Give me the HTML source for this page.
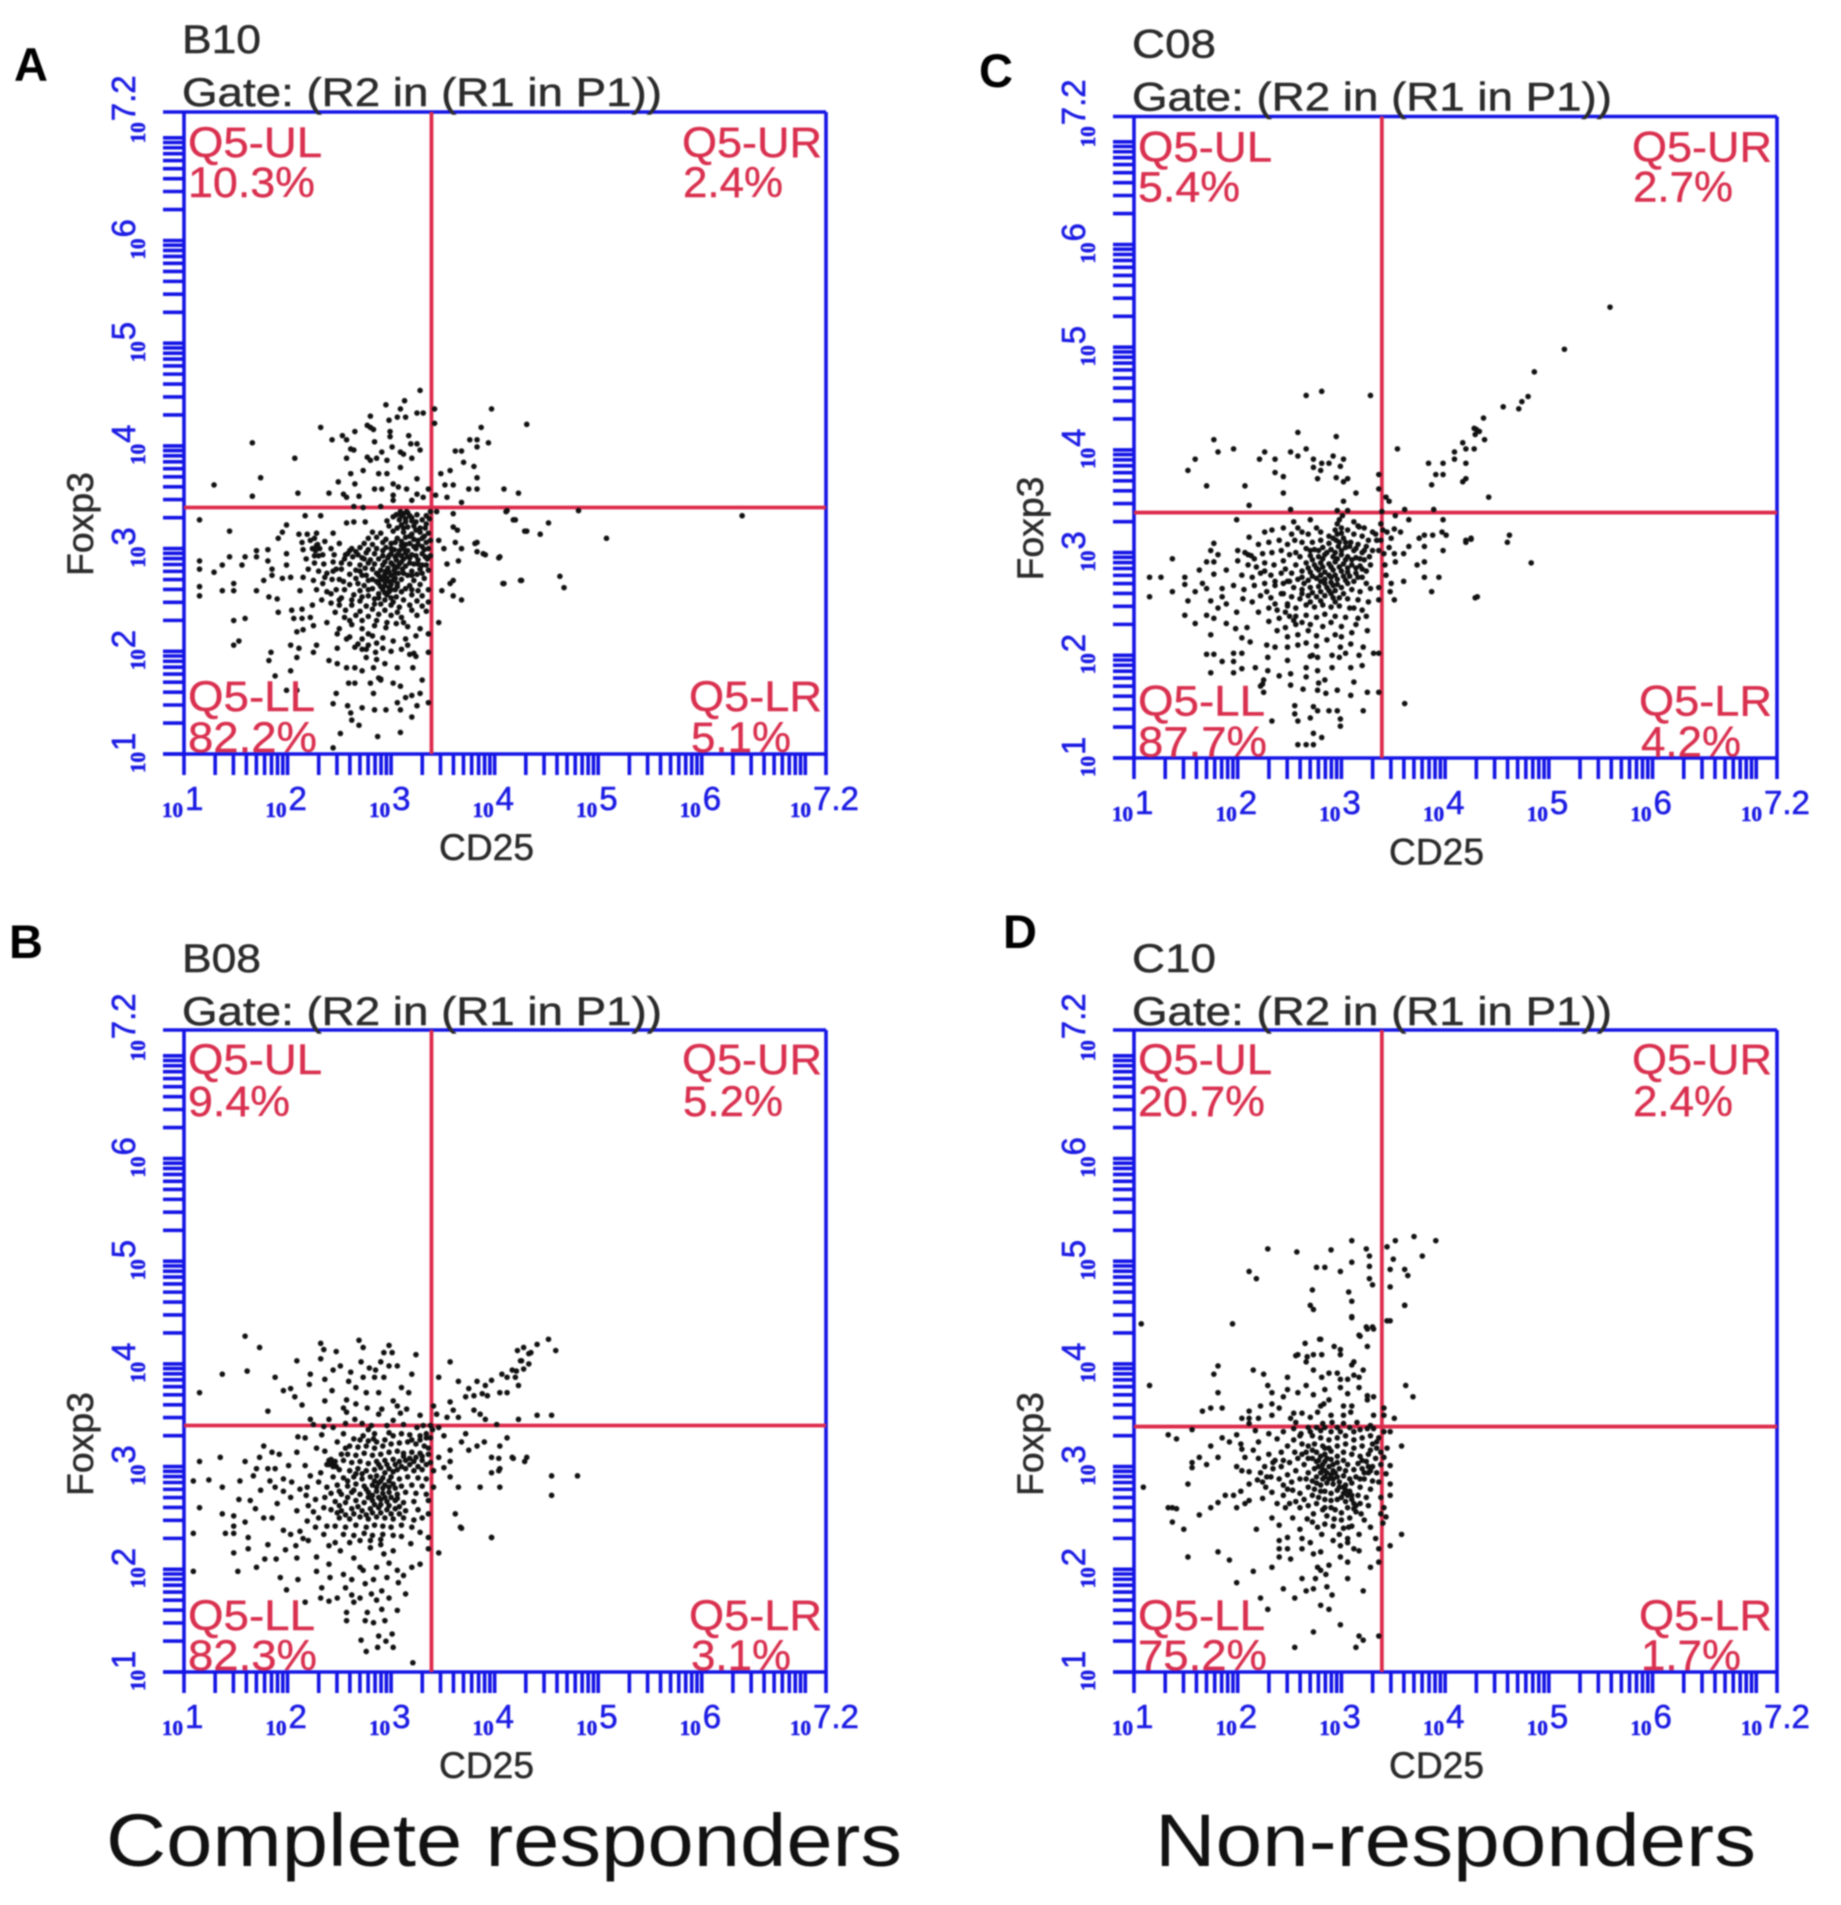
<!DOCTYPE html>
<html lang="en"><head><meta charset="utf-8"><title>Flow cytometry CD25 vs Foxp3</title>
<style>
html,body{margin:0;padding:0;background:#fff}
body{width:1841px;height:1905px;overflow:hidden}
svg{display:block;filter:blur(.8px)}
text{font-family:"Liberation Sans",sans-serif}
.title{font-size:40px;fill:#2b2b2b;stroke:#2b2b2b;stroke-width:.5px}
.q{font-size:43px;fill:#d9304f;stroke:#d9304f;stroke-width:.4px}
.ax{font-size:37px;fill:#2b2b2b;stroke:#2b2b2b;stroke-width:.5px}
.letter{font-size:47px;font-weight:bold;fill:#000}
.cap{font-size:74px;fill:#111}
</style></head><body>
<svg id="fig" width="1841" height="1905" viewBox="0 0 1841 1905">
<rect width="1841" height="1905" fill="#fff"/>
<g id="marks"></g>
<text class="letter" x="14" y="81">A</text>
<text class="letter" x="979" y="87">C</text>
<text class="letter" x="9" y="958">B</text>
<text class="letter" x="1003" y="948">D</text>

<g transform="translate(184,112)">
<text class="title" x="-2" y="-59" textLength="79" lengthAdjust="spacingAndGlyphs">B10</text>
<text class="title" x="-2" y="-6" textLength="480" lengthAdjust="spacingAndGlyphs">Gate: (R2 in (R1 in P1))</text>
<text class="q" x="4" y="45" textLength="134" lengthAdjust="spacingAndGlyphs">Q5-UL</text>
<text class="q" x="4" y="85" textLength="127" lengthAdjust="spacingAndGlyphs">10.3%</text>
<text class="q" x="498" y="45" textLength="140" lengthAdjust="spacingAndGlyphs">Q5-UR</text>
<text class="q" x="499" y="85" textLength="100" lengthAdjust="spacingAndGlyphs">2.4%</text>
<text class="q" x="4" y="599" textLength="127" lengthAdjust="spacingAndGlyphs">Q5-LL</text>
<text class="q" x="4" y="640" textLength="129" lengthAdjust="spacingAndGlyphs">82.2%</text>
<text class="q" x="505" y="599" textLength="133" lengthAdjust="spacingAndGlyphs">Q5-LR</text>
<text class="q" x="507" y="640" textLength="100" lengthAdjust="spacingAndGlyphs">5.1%</text>
<text class="ax" transform="translate(-91,464) rotate(-90)" textLength="104" lengthAdjust="spacingAndGlyphs">Foxp3</text>
<text class="ax" x="255" y="748" textLength="95" lengthAdjust="spacingAndGlyphs">CD25</text>
</g>
<g transform="translate(184,1030)">
<text class="title" x="-2" y="-58" textLength="79" lengthAdjust="spacingAndGlyphs">B08</text>
<text class="title" x="-2" y="-5" textLength="480" lengthAdjust="spacingAndGlyphs">Gate: (R2 in (R1 in P1))</text>
<text class="q" x="4" y="44" textLength="134" lengthAdjust="spacingAndGlyphs">Q5-UL</text>
<text class="q" x="4" y="86" textLength="102" lengthAdjust="spacingAndGlyphs">9.4%</text>
<text class="q" x="498" y="44" textLength="140" lengthAdjust="spacingAndGlyphs">Q5-UR</text>
<text class="q" x="499" y="86" textLength="100" lengthAdjust="spacingAndGlyphs">5.2%</text>
<text class="q" x="4" y="600" textLength="127" lengthAdjust="spacingAndGlyphs">Q5-LL</text>
<text class="q" x="4" y="640" textLength="129" lengthAdjust="spacingAndGlyphs">82.3%</text>
<text class="q" x="505" y="600" textLength="133" lengthAdjust="spacingAndGlyphs">Q5-LR</text>
<text class="q" x="507" y="640" textLength="100" lengthAdjust="spacingAndGlyphs">3.1%</text>
<text class="ax" transform="translate(-91,466) rotate(-90)" textLength="104" lengthAdjust="spacingAndGlyphs">Foxp3</text>
<text class="ax" x="255" y="748" textLength="95" lengthAdjust="spacingAndGlyphs">CD25</text>
</g>
<g transform="translate(1134,116.5)">
<text class="title" x="-2" y="-59" textLength="84" lengthAdjust="spacingAndGlyphs">C08</text>
<text class="title" x="-2" y="-6" textLength="480" lengthAdjust="spacingAndGlyphs">Gate: (R2 in (R1 in P1))</text>
<text class="q" x="4" y="45" textLength="134" lengthAdjust="spacingAndGlyphs">Q5-UL</text>
<text class="q" x="4" y="85" textLength="102" lengthAdjust="spacingAndGlyphs">5.4%</text>
<text class="q" x="498" y="45" textLength="140" lengthAdjust="spacingAndGlyphs">Q5-UR</text>
<text class="q" x="499" y="85" textLength="100" lengthAdjust="spacingAndGlyphs">2.7%</text>
<text class="q" x="4" y="599" textLength="127" lengthAdjust="spacingAndGlyphs">Q5-LL</text>
<text class="q" x="4" y="640" textLength="129" lengthAdjust="spacingAndGlyphs">87.7%</text>
<text class="q" x="505" y="599" textLength="133" lengthAdjust="spacingAndGlyphs">Q5-LR</text>
<text class="q" x="507" y="640" textLength="100" lengthAdjust="spacingAndGlyphs">4.2%</text>
<text class="ax" transform="translate(-91,464) rotate(-90)" textLength="104" lengthAdjust="spacingAndGlyphs">Foxp3</text>
<text class="ax" x="255" y="748" textLength="95" lengthAdjust="spacingAndGlyphs">CD25</text>
</g>
<g transform="translate(1134,1030)">
<text class="title" x="-2" y="-58" textLength="84" lengthAdjust="spacingAndGlyphs">C10</text>
<text class="title" x="-2" y="-5" textLength="480" lengthAdjust="spacingAndGlyphs">Gate: (R2 in (R1 in P1))</text>
<text class="q" x="4" y="44" textLength="134" lengthAdjust="spacingAndGlyphs">Q5-UL</text>
<text class="q" x="4" y="86" textLength="127" lengthAdjust="spacingAndGlyphs">20.7%</text>
<text class="q" x="498" y="44" textLength="140" lengthAdjust="spacingAndGlyphs">Q5-UR</text>
<text class="q" x="499" y="86" textLength="100" lengthAdjust="spacingAndGlyphs">2.4%</text>
<text class="q" x="4" y="600" textLength="127" lengthAdjust="spacingAndGlyphs">Q5-LL</text>
<text class="q" x="4" y="640" textLength="129" lengthAdjust="spacingAndGlyphs">75.2%</text>
<text class="q" x="505" y="600" textLength="133" lengthAdjust="spacingAndGlyphs">Q5-LR</text>
<text class="q" x="507" y="640" textLength="100" lengthAdjust="spacingAndGlyphs">1.7%</text>
<text class="ax" transform="translate(-91,466) rotate(-90)" textLength="104" lengthAdjust="spacingAndGlyphs">Foxp3</text>
<text class="ax" x="255" y="748" textLength="95" lengthAdjust="spacingAndGlyphs">CD25</text>
</g>
<text class="cap" x="106" y="1866" textLength="796" lengthAdjust="spacingAndGlyphs">Complete responders</text>
<text class="cap" x="1155" y="1866" textLength="601" lengthAdjust="spacingAndGlyphs">Non-responders</text>
</svg>
<script>
// Axis values (log10 units)
const tickDecades = [1,2,3,4,5,6];
const tickMultipliers = [1,2,3,4,5,6,7,8,9];
const axisEnd = 7.2;
const tickLabels = ['1','2','3','4','5','6','7.2'];
const tickLabelValues = [1,2,3,4,5,6,7.2];
// Quadrant gate positions [CD25, Foxp3] in log10 units
const gateA = [3.39,3.40];
const gateB = [3.39,3.40];
const gateC = [3.39,3.39];
const gateD = [3.39,3.39];
// Events: [log10 CD25, log10 Foxp3]
const pointsA = [
[3.28,4.54],[2.95,4.4],[3.13,4.44],[3.09,4.36],[3.42,4.36],[3.25,4.32],[3.31,4.32],[3.42,4.22],[3.97,4.36],[4.31,4.21],[2.8,4.29],[2.98,4.25],[3.06,4.28],[3.14,4.28],[2.32,4.18],[2.8,4.18],[2.77,4.2],[2.83,4.16],[2.65,4.14],[2.99,4.14],[2.99,4.09],[3.17,4.1],[3.87,4.18],[2.53,4.1],[2.43,4.06],[2.57,4.06],[2.84,4.04],[3.76,4.06],[3.83,4.06],[3.83,3.99],[3.94,4.03],[1.66,4.03],[3.01,3.99],[3.19,4.02],[3.25,4.02],[3.28,3.96],[2.61,3.97],[2.57,3.88],[2.64,3.96],[2.77,3.89],[2.91,3.94],[2.96,3.86],[3.09,3.94],[3.12,3.92],[3.2,3.88],[3.62,3.95],[3.68,3.95],[2.07,3.88],[3.7,3.84],[3.8,3.8],[2.8,3.86],[2.86,3.88],[3.09,3.79],[2.73,3.76],[2.88,3.73],[2.96,3.73],[3.57,3.76],[3.48,3.73],[2.61,3.73],[1.74,3.69],[3.25,3.68],[3.83,3.69],[2.49,3.65],[2.65,3.63],[3.52,3.62],[3.6,3.62],[3.02,3.63],[1.29,3.62],[3.07,3.6],[2.84,3.58],[2.91,3.58],[3.15,3.58],[3.75,3.58],[3.83,3.58],[4.09,3.58],[4.23,3.54],[2.1,3.54],[2.4,3.54],[1.66,3.51],[2.54,3.53],[2.69,3.51],[3.02,3.52],[3.25,3.53],[3.36,3.58],[3.43,3.52],[3.54,3.5],[2.57,3.5],[3.02,3.47],[3.2,3.47],[3.31,3.5],[3.68,3.45],[2.64,3.41],[2.73,3.4],[2.9,3.41],[3.09,3.36],[3.15,3.36],[3.38,3.36],[3.44,3.36],[3.6,3.34],[4.12,3.37],[2.17,3.32],[2.32,3.32],[1.15,3.28],[4.2,3.28],[2.57,3.25],[2.64,3.26],[1.99,3.23],[2.75,3.26],[2.96,3.27],[3.02,3.31],[3.64,3.18],[3.6,3.21],[4.31,3.17],[1.44,3.17],[1.95,3.16],[1.91,3.1],[2.11,3.14],[2.19,3.14],[2.28,3.15],[2.44,3.15],[3.83,3.06],[3.62,3.06],[3.83,2.97],[3.89,2.95],[4.05,2.92],[3.68,3.0],[3.65,2.88],[3.54,2.85],[3.51,3.0],[3.46,3.08],[4.09,2.66],[4.26,2.69],[3.6,2.69],[3.57,2.66],[3.49,2.59],[3.6,2.54],[3.68,2.5],[3.46,2.28],
[1.15,2.88],[1.15,2.8],[1.29,2.77],[1.37,2.84],[1.44,2.92],[1.56,2.84],[1.59,2.92],[1.7,2.98],[1.7,2.92],[1.81,2.99],[1.81,2.88],[1.85,2.8],[1.99,2.95],[1.99,2.84],[1.77,2.69],[1.85,2.74],[1.95,2.71],[2.03,2.72],[1.15,2.63],[1.15,2.54],[1.37,2.59],[1.48,2.66],[1.48,2.59],[1.7,2.59],[1.82,2.53],[1.9,2.51],[2.12,2.59],[1.91,2.38],[2.04,2.4],[2.14,2.41],[2.06,2.32],[2.14,2.32],[2.22,2.33],[2.25,2.25],[1.48,2.3],[1.59,2.32],[2.09,2.19],[2.15,2.21],[1.48,2.06],[1.53,2.1],[2.03,2.06],[2.11,2.03],[2.28,2.06],[2.25,1.99],[1.84,1.99],[1.82,1.91],[2.09,1.94],[2.4,1.91],[2.48,2.03],[2.48,1.88],[2.57,2.12],[2.57,1.84],[2.65,1.84],[2.72,1.81],[2.83,1.84],[2.94,1.88],[3.06,1.84],[3.21,1.84],[2.59,1.69],[2.65,1.69],[2.8,1.69],[2.9,1.73],[3.02,1.69],[3.09,1.66],[3.3,1.72],[1.88,1.76],[2.03,1.81],[2.83,1.59],[2.47,1.59],[1.99,1.62],[2.09,1.62],[3.06,1.5],[3.14,1.55],[3.2,1.57],[3.28,1.59],[3.36,1.5],[2.44,1.49],[2.58,1.47],[2.72,1.45],[2.84,1.43],[2.95,1.43],[3.09,1.43],[3.25,1.47],[2.61,1.4],[3.2,1.36],[2.62,1.33],[2.69,1.28],[3.09,1.21],[2.51,1.2],[2.87,1.17],[2.44,1.06],[3.36,1.99],[3.36,2.17],[3.36,2.48],
[6.39,3.32],[5.08,3.1],[4.81,3.37],[4.52,3.25],[4.44,3.14],[4.29,3.17],[4.18,3.28],[4.11,3.36],[4.63,2.73],[4.67,2.62],[4.25,2.69],[4.08,2.66],[4.04,2.91],[3.91,2.94],[3.81,3.05],
[2.14,3.06],[2.22,3.08],[2.29,3.04],[2.36,3.07],[2.15,2.99],[2.27,2.98],[2.3,2.93],[2.42,3.0],[2.45,2.94],[2.18,2.9],[2.26,2.86],[2.35,2.85],[2.44,2.87],[2.5,3.05],[2.2,2.8],[2.3,2.78],[2.38,2.76],[2.47,2.8],[2.15,2.72],[2.25,2.69],[2.34,2.66],[2.43,2.7],[2.28,2.6],[2.38,2.58],[2.47,2.6],[2.33,2.5],[2.42,2.47],[2.52,2.52],[2.24,2.45],[2.46,2.38],[2.55,2.33],[2.38,2.28],[2.5,2.22],[2.62,2.26],[2.72,2.22],[2.84,2.25],[2.95,2.23],[3.05,2.27],[3.16,2.24],[3.28,2.22],[2.48,2.17],[2.6,2.14],[2.72,2.12],[2.82,2.15],[2.92,2.13],[3.02,2.1],[3.14,2.12],[3.24,2.15],[2.65,2.04],[2.72,2.02],[2.78,2.06],[2.85,1.99],[2.92,2.03],[3.0,2.0],[3.1,2.02],[3.18,1.97],[3.24,1.95],[2.76,1.94],[2.86,1.92],
[3.05,3.33],[3.12,3.34],[3.18,3.32],[3.25,3.33],[3.08,3.28],[3.14,3.29],[3.2,3.27],[3.3,3.28],[3.37,3.29],[2.98,3.22],[3.1,3.23],[3.16,3.21],[3.22,3.22],[3.33,3.2],[2.82,3.16],[2.9,3.15],[3.02,3.17],[3.12,3.16],[3.2,3.14],[3.28,3.16],[3.36,3.15],[2.78,3.1],[2.86,3.11],[2.95,3.09],[3.06,3.1],[3.14,3.11],[3.22,3.09],[3.3,3.1],[3.38,3.08],[2.74,3.05],[2.82,3.04],[2.92,3.06],[3.0,3.05],[3.1,3.03],[3.18,3.05],[3.26,3.04],[3.34,3.06],[2.62,3.0],[2.7,3.01],[2.78,2.99],[2.86,3.0],[2.95,3.01],[3.03,2.99],[3.12,3.0],[3.16,2.98],[3.24,3.0],[3.32,2.99],[2.58,2.95],[2.68,2.94],[2.76,2.96],[2.84,2.95],[2.92,2.93],[3.0,2.95],[3.06,2.94],[3.14,2.96],[3.2,2.94],[3.3,2.95],[3.38,2.93],[2.55,2.9],[2.72,2.91],[2.8,2.89],[2.88,2.9],[2.97,2.91],[3.05,2.89],[3.12,2.9],[3.18,2.91],[3.26,2.89],[3.35,2.9],[2.6,2.85],[2.7,2.84],[2.78,2.86],[2.84,2.85],[2.92,2.84],[3.0,2.86],[3.08,2.85],[3.14,2.83],[3.22,2.85],[3.3,2.84],[2.52,2.8],[2.66,2.79],[2.75,2.81],[2.82,2.8],[2.9,2.79],[2.97,2.81],[3.03,2.79],[3.11,2.8],[3.2,2.78],[3.28,2.8],[3.36,2.79],[2.6,2.75],[2.72,2.74],[2.86,2.76],[2.94,2.75],[3.0,2.74],[3.07,2.76],[3.16,2.74],[3.25,2.75],[2.5,2.7],[2.66,2.71],[2.78,2.69],[2.9,2.7],[2.96,2.71],[3.02,2.69],[3.1,2.7],[3.22,2.69],[3.32,2.71],[2.6,2.65],[2.74,2.64],[2.88,2.66],[2.94,2.64],[3.0,2.65],[3.06,2.66],[3.18,2.64],[3.28,2.65],[2.55,2.6],[2.7,2.59],[2.82,2.61],[2.92,2.6],[2.98,2.58],[3.04,2.6],[3.14,2.61],[3.26,2.59],[3.36,2.6],[2.64,2.55],[2.78,2.54],[2.88,2.56],[2.96,2.55],[3.05,2.53],[3.2,2.55],[3.3,2.54],[2.5,2.5],[2.7,2.49],[2.84,2.51],[2.94,2.5],[3.02,2.48],[3.12,2.5],[3.25,2.49],[2.62,2.45],[2.76,2.44],[2.9,2.46],[3.0,2.45],[3.08,2.43],[3.18,2.45],[3.3,2.44],[2.56,2.4],[2.7,2.39],[2.82,2.41],[2.94,2.4],[3.06,2.38],[3.2,2.4],[3.34,2.39],[2.66,2.35],[2.78,2.34],[2.88,2.36],[3.0,2.35],[3.1,2.33],[3.25,2.35]];
const denseA = [
[3.1,3.32],[3.16,3.35],[3.2,3.3],[3.14,3.26],[3.24,3.26],[3.34,3.32],[3.34,3.24],[3.28,3.2],[3.06,3.2],[3.12,3.2],[3.24,3.18],[3.32,3.12],[3.26,3.08],[3.18,3.12],[3.1,3.07],[3.04,3.06],[3.14,3.04],[3.22,3.02],[3.3,3.02],[3.36,3.0],[3.08,2.98],[3.0,3.0],[2.92,2.98],[2.98,2.93],[3.04,2.92],[3.1,2.93],[3.16,2.92],[3.24,2.93],[3.33,2.92],[2.94,2.87],[3.02,2.84],[3.06,2.82],[3.1,2.87],[3.18,2.86],[3.26,2.85],[3.34,2.84],[2.95,2.78],[2.88,2.74],[2.92,2.72],[2.98,2.77],[3.04,2.76],[3.12,2.76],[3.2,2.74],[3.3,2.76],[2.86,2.68],[2.94,2.68],[2.98,2.68],[3.04,2.71],[3.06,2.63],[2.9,2.63],[2.98,2.62],[3.0,2.6],[2.94,2.57],[3.1,2.58],[3.2,2.6],[2.88,2.52],[3.0,2.52],[2.26,3.1],[2.28,3.03],[2.24,3.0],[2.31,3.0],[2.26,2.93],[2.6,2.98],[2.63,2.92],[2.56,2.94],[2.66,2.97],[2.74,2.9],[2.7,2.78],[2.76,2.74],[2.82,2.7],[2.68,2.66],[2.78,2.6],[2.72,2.53],[2.84,2.46],[2.62,2.5],[2.5,2.45],[2.42,2.56],[2.36,2.72],[2.54,2.68],[2.44,2.78],[2.52,2.86],[2.34,2.94],[2.72,2.3],[2.6,2.3],[2.86,2.3],[2.96,2.28],[3.12,2.28],[2.78,2.17],[2.86,2.08],[2.76,2.02],[2.68,2.07],[3.16,2.06],[3.22,1.98],[2.9,1.72],[2.88,1.74]];
const pointsB = [
[1.59,4.27],[1.73,4.16],[2.32,4.2],[2.35,4.14],[2.47,4.12],[2.69,4.23],[2.73,4.16],[2.98,4.18],[2.93,4.11],[3.01,4.11],[3.24,4.09],[2.09,4.03],[2.32,4.05],[2.71,4.02],[2.9,4.02],[1.37,3.9],[1.61,3.93],[3.57,4.02],[2.98,3.98],[3.06,3.98],[2.51,3.98],[2.44,3.94],[2.22,3.9],[2.61,3.92],[2.85,3.94],[2.79,3.96],[3.2,3.9],[1.88,3.87],[2.36,3.85],[2.73,3.87],[2.84,3.87],[2.93,3.87],[3.46,3.87],[3.65,3.83],[2.59,3.83],[2.21,3.8],[2.66,3.77],[3.1,3.77],[3.17,3.72],[2.43,3.74],[2.76,3.72],[2.88,3.72],[1.96,3.74],[2.03,3.76],[1.15,3.72],[2.07,3.68],[2.36,3.64],[2.57,3.65],[2.66,3.61],[2.14,3.6],[3.02,3.64],[3.06,3.59],[3.15,3.56],[2.54,3.57],[2.77,3.57],[2.91,3.56],[1.81,3.54],[2.57,3.53],[2.88,3.51],[3.09,3.52],[3.28,3.5],[2.22,3.46],[2.4,3.46],[2.65,3.46],[3.02,3.45],[3.12,3.41],[2.25,3.41],[2.35,3.39],[2.44,3.38],[2.56,3.42],[2.72,3.42],[2.81,3.4],[2.96,3.4],[3.25,3.38],[3.31,3.4],[3.38,3.4],
[2.1,3.29],[2.17,3.28],[2.33,3.31],[2.54,3.32],[2.64,3.27],[2.73,3.3],[2.83,3.27],[1.77,3.2],[1.85,3.14],[1.92,3.12],[2.09,3.14],[2.28,3.18],[2.36,3.15],[2.48,3.24],[2.56,3.18],[1.73,3.09],[1.35,3.09],[1.15,3.05],[1.59,3.05],[2.01,3.01],[2.17,3.01],[2.44,3.04],[2.4,3.02],[2.47,3.0],[2.42,3.07],[1.7,2.98],[1.81,2.98],[1.88,2.98],[1.67,2.91],[1.24,2.87],[1.09,2.86],[1.54,2.86],[1.83,2.86],[2.04,2.85],[1.96,2.88],[1.37,2.8],[1.74,2.77],[1.88,2.8],[2.22,2.91],[2.32,2.94],[2.19,2.8],[2.27,2.68],[2.38,2.8],[2.35,2.6],[2.03,2.7],[2.09,2.57],[1.96,2.76],[1.53,2.68],[1.64,2.67],[1.69,2.59],[1.15,2.6],[1.9,2.64],[1.37,2.54],[1.48,2.52],[1.48,2.42],[1.59,2.46],[1.77,2.5],[1.85,2.5],[1.09,2.35],[1.4,2.35],[1.48,2.35],[1.62,2.31],[1.96,2.38],[2.03,2.34],[2.12,2.37],[2.19,2.47],[2.27,2.41],[2.2,2.28],[2.35,2.34],[1.81,2.24],[2.08,2.23],[1.98,2.19],[1.48,2.16],[1.62,2.2],[1.78,2.1],[1.89,2.1],[2.09,2.11],[2.28,2.12],[2.4,2.23],[1.7,2.02],[1.09,1.98],[1.52,1.98],[2.4,2.05],[2.28,1.98],[1.93,1.92],[2.1,1.9],[2.41,1.92],[2.33,1.82],[2.48,1.72],[2.32,1.72],[2.4,1.69],[2.17,1.68],[1.99,1.8],[2.54,1.95],[2.56,1.82],[2.64,1.68],[2.57,1.58],[2.57,1.5],[2.77,1.58],[2.83,1.48],[2.91,1.61],[3.06,1.6],[2.94,1.5],[2.75,1.5],[2.71,1.31],[2.88,1.35],[3.01,1.37],[2.95,1.3],[2.76,1.2],[2.87,1.24],[3.02,1.24],[3.21,1.09],
[2.73,1.99],[2.86,2.02],[2.96,1.92],[2.75,1.86],[2.81,1.76],[2.91,1.79],[3.07,1.87],[3.14,1.76],[3.28,2.05],[3.2,2.02],[3.12,1.94],[3.46,2.16],[3.36,2.2],[3.19,2.25],[3.28,2.36],[3.02,2.18],[2.93,2.15],[2.8,2.21],[2.64,2.11],[2.51,2.18],[2.7,2.02],[2.62,1.9],[2.83,1.9],[2.98,2.06],[3.06,1.99],
[3.46,3.38],[3.51,3.3],[3.57,3.16],[3.57,3.05],[3.46,3.09],[3.51,2.99],[3.57,2.9],[3.65,2.8],[3.86,2.8],[4.05,2.8],[3.97,2.94],[4.05,2.98],[3.97,3.09],[4.17,3.09],[4.31,3.09],[4.12,3.28],[4.05,3.2],[3.9,3.24],[3.83,3.2],[3.75,3.16],[3.68,3.24],[3.72,3.32],[3.62,2.54],[3.68,2.4],[3.97,2.31],[3.41,2.8],[3.36,2.54],[3.36,2.31],[3.41,2.96],
[3.41,3.59],[3.44,3.51],[3.54,3.48],[3.57,3.63],[3.6,3.55],[3.65,3.48],[3.8,3.55],[3.86,3.51],[3.91,3.46],[4.02,3.41],[4.23,3.46],[3.72,3.68],[3.75,3.76],[3.83,3.83],[3.8,3.69],[3.88,3.71],[3.93,3.69],[3.91,3.79],[3.97,3.84],[4.05,3.72],[4.12,3.72],[4.07,3.9],[4.12,3.87],[4.17,3.94],[4.23,3.79],[4.2,3.87],[4.22,4.13],[4.28,4.16],[4.33,4.1],[4.25,4.03],[4.28,3.95],[4.33,4.0],[4.26,4.03],[4.35,4.11],[4.21,3.93],[4.41,4.19],[4.52,4.24],[4.59,4.13],[4.41,3.5],[4.55,3.5],[4.8,2.91],[4.55,2.91],[4.55,2.72],[3.97,2.31],[3.67,2.41],[4.04,2.96],[4.04,3.08],[4.18,3.08],[4.29,3.05],
[2.7,3.26],[2.78,3.25],[2.86,3.24],[2.94,3.26],[3.02,3.3],[3.1,3.32],[3.18,3.31],[3.28,3.3],[3.34,3.28],[2.6,3.2],[2.68,3.19],[2.76,3.2],[2.84,3.18],[2.92,3.2],[3.0,3.22],[3.08,3.23],[3.16,3.24],[3.24,3.22],[3.32,3.2],[2.58,3.12],[2.66,3.11],[2.74,3.13],[2.82,3.11],[2.9,3.12],[2.98,3.14],[3.06,3.15],[3.12,3.13],[3.2,3.14],[3.28,3.13],[3.36,3.12],[2.54,3.06],[2.62,3.04],[2.7,3.05],[2.78,3.03],[2.86,3.05],[2.94,3.06],[3.02,3.07],[3.08,3.05],[3.14,3.06],[3.22,3.05],[3.3,3.06],[3.38,3.04],[2.5,2.97],[2.6,2.96],[2.68,2.98],[2.76,2.96],[2.84,2.97],[2.9,2.99],[2.98,2.98],[3.06,2.97],[3.14,2.98],[3.22,2.96],[3.3,2.97],[2.44,2.9],[2.54,2.89],[2.64,2.9],[2.72,2.88],[2.8,2.9],[2.86,2.91],[2.92,2.89],[3.0,2.9],[3.08,2.88],[3.16,2.9],[3.26,2.89],[3.34,2.88],[2.48,2.82],[2.58,2.81],[2.66,2.83],[2.74,2.81],[2.82,2.82],[2.88,2.84],[2.94,2.82],[3.02,2.83],[3.1,2.81],[3.2,2.82],[3.3,2.81],[2.42,2.74],[2.52,2.73],[2.62,2.75],[2.7,2.73],[2.78,2.75],[2.86,2.76],[2.92,2.74],[2.98,2.75],[3.06,2.73],[3.14,2.75],[3.24,2.74],[3.34,2.73],[2.46,2.66],[2.56,2.65],[2.66,2.67],[2.74,2.65],[2.82,2.67],[2.9,2.68],[2.96,2.66],[3.04,2.67],[3.12,2.65],[3.22,2.66],[3.36,2.67],[2.42,2.58],[2.52,2.57],[2.62,2.59],[2.72,2.57],[2.8,2.59],[2.88,2.6],[2.96,2.58],[3.04,2.59],[3.14,2.57],[3.26,2.58],[2.5,2.5],[2.6,2.49],[2.7,2.51],[2.78,2.49],[2.86,2.51],[2.94,2.5],[3.02,2.49],[3.12,2.5],[3.22,2.48],[3.3,2.5],[2.46,2.42],[2.56,2.41],[2.66,2.43],[2.76,2.41],[2.84,2.43],[2.92,2.42],[3.0,2.41],[3.1,2.43],[3.2,2.41],[2.54,2.34],[2.64,2.33],[2.74,2.35],[2.82,2.33],[2.92,2.34],[3.02,2.33],[3.1,2.32]];
const denseB = [
[3.12,3.1],[3.18,3.08],[3.24,3.09],[3.3,3.1],[3.34,3.02],[3.26,3.0],[3.18,3.02],[3.1,3.0],[3.04,3.02],[2.96,3.02],[2.88,3.02],[2.94,2.94],[3.02,2.95],[2.98,2.86],[2.9,2.86],[2.84,2.86],[2.86,2.8],[2.92,2.79],[2.98,2.8],[3.04,2.79],[2.82,2.72],[2.88,2.7],[2.94,2.7],[3.0,2.7],[3.06,2.69],[2.84,2.63],[2.9,2.63],[2.98,2.62],[3.08,2.61],[2.78,2.7],[2.76,2.78],[2.72,2.93],[2.66,2.93],[2.64,2.77],[2.58,2.7],[2.68,2.61],[2.76,2.53],[2.82,2.55],[2.9,2.55],[3.0,2.54],[3.08,2.54],[2.64,2.54],[2.56,2.53],[2.48,2.55],[2.5,2.62],[2.5,2.76],[2.58,2.86],[2.44,3.0],[2.4,3.06],[2.46,3.05],[2.38,3.02],[2.52,3.12],[3.34,3.32],[3.38,3.28],[3.28,3.26],[3.2,3.26],[3.4,3.36],[3.36,3.18],[2.98,3.33],[2.84,3.32],[2.78,3.36],[2.9,2.29],[2.8,2.28],[2.7,2.28],[2.6,2.26],[2.9,2.24],[2.46,2.26],[2.38,2.42],[2.3,2.5],[2.25,2.56],[2.2,2.62],[2.18,2.72],[2.12,2.78],[2.3,2.85],[2.36,2.7],[2.15,2.3],[2.7,1.72],[2.62,1.75],[2.86,1.7],[2.98,1.72]];
const pointsC = [
[2.66,4.53],[2.81,4.57],[3.28,4.53],[2.58,4.17],[2.95,4.13],[1.77,4.1],[1.81,3.98],[1.96,4.01],[3.54,4.01],[2.66,4.01],[2.26,3.98],[2.51,3.98],[2.58,3.94],[1.59,3.91],[2.21,3.91],[2.36,3.91],[2.73,3.91],[2.81,3.87],[2.88,3.87],[2.92,3.94],[3.02,3.91],[2.99,3.84],[1.52,3.8],[2.73,3.83],[2.8,3.8],[2.36,3.78],[2.44,3.74],[2.77,3.72],[2.95,3.73],[3.02,3.69],[3.06,3.72],[3.36,3.76],[3.36,3.62],[1.7,3.65],[2.07,3.65],[2.44,3.58],[3.14,3.58],[3.43,3.54],[3.46,3.5],[3.02,3.5],[2.11,3.46],[2.51,3.42],[2.96,3.41],[3.01,3.36],[3.06,3.41],[3.39,3.4],[3.52,3.36],[3.61,3.42],[3.89,3.42],
[3.84,3.87],[3.98,3.87],[4.2,3.87],[3.91,3.76],[3.98,3.76],[3.87,3.66],[4.17,3.69],[4.2,3.72],[4.09,3.98],[4.09,3.91],[4.2,4.01],[4.28,4.01],[4.28,4.21],[4.33,4.18],[5.59,5.39],[5.15,4.98],[4.86,4.76],[4.8,4.52],[4.74,4.47],[4.71,4.4],[4.56,4.42],[4.37,4.31],[4.29,4.15],[4.3,4.2],[4.38,4.1],[4.17,4.07],[4.62,3.17],[4.6,3.1],[4.83,2.9],[4.29,2.56],[4.42,3.54],[4.2,3.12],[4.25,3.14],
[1.99,3.32],[2.7,3.32],[2.54,3.3],[3.12,3.3],[3.17,3.25],[3.38,3.28],[3.65,3.32],[3.98,3.32],[3.51,3.23],[3.57,3.2],[3.48,3.14],[3.97,3.2],[4.01,3.17],[3.8,3.17],[3.88,3.17],[3.75,3.14],[3.8,3.06],[4.2,3.1],[4.25,3.13],[3.98,3.02],[3.65,3.06],[3.6,2.99],[3.51,2.99],[3.73,2.88],[3.8,2.91],[3.52,2.91],[3.8,2.76],[3.94,2.76],[3.6,2.72],[3.87,2.62],[3.47,2.62],[3.51,2.54],[4.31,2.57],[3.43,2.78],[3.36,2.54],[3.36,2.66],[3.41,2.99],[3.38,3.12],[3.28,2.65],[3.25,2.24],[3.31,2.02],[3.36,2.02],[3.36,1.64],[3.61,1.53],[3.25,1.64],[3.21,1.46],[3.44,3.2],[3.46,3.05],[3.42,2.88],[3.4,3.22],[3.48,2.7],[3.36,3.02],[3.33,3.18],
[1.37,2.94],[1.15,2.76],[1.26,2.76],[1.15,2.57],[1.37,2.62],[1.49,2.76],[1.49,2.69],[1.63,2.83],[1.77,3.09],[1.74,3.02],[1.81,2.98],[1.7,2.91],[1.77,2.91],[1.89,2.83],[1.77,2.79],[1.66,2.7],[1.7,2.65],[1.59,2.62],[1.52,2.53],[1.74,2.53],[1.85,2.65],[1.85,2.57],[1.81,2.46],[1.89,2.5],[1.49,2.39],[1.59,2.31],[1.7,2.39],[1.77,2.36],[1.89,2.31],[1.99,2.42],[1.74,2.2],[1.98,2.26],[2.09,2.27],[2.04,2.17],[2.12,2.13],[1.7,2.01],[1.77,2.01],[1.96,2.02],[2.04,2.02],[1.85,1.94],[1.96,1.94],[1.74,1.83],[1.96,1.83],[2.04,1.87],[2.17,1.88],[2.29,1.98],[2.28,2.1],[2.36,2.08],[2.48,2.08],[2.58,2.1],[2.29,1.85],[2.25,1.76],[2.25,1.64],[2.4,1.8],[2.48,1.95],[2.51,1.82],[2.51,1.71],[2.66,1.88],[2.66,1.79],[2.63,1.67],[2.77,1.85],[2.77,1.66],[2.85,1.63],[2.91,1.88],[2.96,1.66],[3.09,1.61],[3.12,1.74],[3.09,1.88],[3.2,1.9],[3.17,2.0],[2.7,1.99],[2.77,1.98],[2.91,2.0],[2.99,2.08],[3.09,2.11],[3.21,2.08],[2.55,1.51],[2.55,1.43],[2.58,1.36],[2.73,1.5],[2.77,1.46],[2.7,1.39],[2.88,1.46],[2.96,1.46],[2.99,1.38],[2.99,1.31],[2.33,1.36],[2.73,1.24],[2.81,1.2],[2.58,1.13],[2.66,1.13],[2.73,1.13],
[2.11,3.15],[2.26,3.2],[2.33,3.22],[2.44,3.24],[2.52,3.18],[2.58,3.24],[2.2,3.08],[2.3,3.1],[2.4,3.12],[2.48,3.08],[2.55,3.12],[2.0,3.02],[2.07,3.0],[2.13,2.97],[2.24,2.99],[2.33,3.0],[2.42,3.02],[2.5,2.98],[2.0,2.92],[2.1,2.88],[2.18,2.86],[2.26,2.9],[2.35,2.88],[2.44,2.92],[2.04,2.78],[2.14,2.76],[2.22,2.8],[2.32,2.78],[2.42,2.8],[1.96,2.68],[2.06,2.64],[2.16,2.68],[2.26,2.7],[2.36,2.68],[2.44,2.7],[2.05,2.55],[2.14,2.52],[2.22,2.58],[2.32,2.56],[2.42,2.6],[2.2,2.42],[2.3,2.46],[2.38,2.44],[2.48,2.5],[2.3,2.33],[2.4,2.36],[2.5,2.38],[2.38,2.24],[2.46,2.27],[2.56,2.3],[2.48,2.18],[2.58,2.2],[2.68,2.24],[2.76,2.19],[2.66,2.12],[2.76,2.09],[2.86,2.15],[2.94,2.2],[3.0,2.18],[3.1,2.22],[3.14,2.3],[2.62,2.32],
[2.98,3.32],[2.96,3.28],[3.0,3.24],[2.94,3.22],[3.06,3.22],[2.8,3.2],[2.88,3.16],[3.12,3.18],[3.2,3.16],[3.26,3.12],[2.72,3.1],[2.8,3.12],[2.88,3.09],[2.95,3.12],[3.02,3.14],[3.09,3.1],[3.16,3.08],[3.24,3.06],[3.3,3.02],[2.66,3.04],[2.74,3.03],[2.82,3.05],[2.9,3.03],[2.97,3.06],[3.04,3.05],[3.12,3.02],[3.2,3.0],[3.27,2.96],[2.6,2.96],[2.7,2.97],[2.78,2.96],[2.84,2.98],[2.92,2.96],[3.0,2.98],[3.06,2.96],[3.14,2.95],[3.22,2.93],[3.28,2.88],[2.56,2.88],[2.66,2.9],[2.74,2.88],[2.8,2.9],[2.88,2.89],[2.94,2.91],[3.02,2.89],[3.1,2.88],[3.18,2.87],[3.24,2.82],[2.52,2.8],[2.62,2.82],[2.7,2.81],[2.78,2.83],[2.84,2.81],[2.92,2.83],[3.0,2.82],[3.06,2.81],[3.14,2.8],[3.2,2.76],[2.48,2.72],[2.58,2.74],[2.68,2.73],[2.76,2.75],[2.84,2.74],[2.9,2.76],[2.96,2.74],[3.04,2.73],[3.12,2.72],[3.24,2.7],[2.54,2.66],[2.62,2.64],[2.7,2.66],[2.78,2.67],[2.86,2.66],[2.92,2.68],[3.0,2.66],[3.1,2.64],[3.18,2.62],[2.52,2.57],[2.6,2.55],[2.68,2.58],[2.76,2.57],[2.84,2.58],[2.9,2.6],[2.98,2.56],[3.06,2.55],[3.16,2.54],[3.26,2.52],[2.48,2.48],[2.56,2.46],[2.66,2.49],[2.74,2.47],[2.82,2.49],[2.9,2.47],[2.98,2.48],[3.08,2.46],[3.2,2.44],[2.56,2.38],[2.66,2.39],[2.76,2.37],[2.84,2.4],[2.94,2.38],[3.04,2.37],[3.16,2.36]];
const denseC = [
[2.96,3.18],[3.0,3.19],[2.92,3.14],[2.98,3.1],[3.04,3.1],[3.08,3.06],[3.14,3.04],[3.22,3.02],[3.0,3.02],[2.94,3.0],[2.86,3.0],[2.78,3.02],[2.7,3.02],[2.96,2.94],[3.04,2.93],[3.1,2.93],[3.18,2.94],[2.82,2.94],[2.72,2.93],[2.9,2.86],[2.98,2.86],[3.06,2.85],[3.14,2.85],[3.2,2.84],[2.82,2.86],[2.76,2.85],[2.68,2.85],[2.88,2.78],[2.94,2.78],[3.02,2.77],[3.08,2.77],[3.16,2.76],[2.8,2.78],[2.72,2.77],[2.9,2.71],[2.96,2.69],[2.84,2.7],[2.8,2.72],[3.06,2.7],[2.94,2.63],[2.88,2.63],[2.8,2.62],[2.72,2.61],[2.64,2.7],[2.62,2.76],[3.02,2.6],[2.92,2.56],[2.94,2.52],[2.8,2.53],[2.7,2.52],[2.62,2.6],[2.44,2.6],[2.36,2.72],[2.26,2.82],[2.16,2.94],[2.1,2.98],[2.28,2.62],[2.36,2.5],[2.46,2.42],[2.54,2.34],[2.7,2.3],[2.82,2.28],[2.9,2.32],[3.0,2.28],[2.5,2.72],[2.46,2.84],[2.56,3.0],[2.62,3.1],[2.68,3.18],[2.76,3.24],[2.62,3.2],[3.16,3.26],[3.22,3.24],[3.3,3.2],[3.34,3.12],[3.12,2.46],[3.24,2.38],[2.72,2.0],[2.98,1.98],[3.04,2.02],[2.84,1.76],[2.78,1.73],[2.22,1.7],[2.24,1.72]];
const pointsD = [
[2.29,5.12],[2.57,5.09],[2.9,5.11],[3.1,5.2],[3.24,5.12],[3.44,5.14],[3.52,5.2],[3.7,5.24],[3.91,5.2],[3.78,5.05],[3.5,5.02],[3.47,4.92],[3.61,4.92],[3.64,4.86],[2.11,4.9],[2.18,4.83],[2.76,4.94],[2.84,4.94],[2.99,4.9],[3.1,4.99],[3.27,5.05],[3.27,4.95],[3.27,4.83],[3.3,4.77],[3.47,4.75],[2.72,4.72],[3.07,4.7],[3.1,4.61],[2.7,4.57],[3.61,4.57],[3.44,4.42],[3.1,4.45],[1.95,4.39],[1.07,4.39],[3.24,4.36],[3.3,4.36],[3.18,4.27],[2.79,4.24],[2.65,4.2],[2.93,4.17],[2.99,4.14],[2.56,4.08],[2.67,4.07],
[2.73,4.53],[3.1,4.46],[3.47,4.42],[3.61,4.57],[3.25,4.34],[3.31,4.34],[3.17,4.28],[2.8,4.24],[3.25,4.17],[2.58,4.09],[2.73,4.09],[2.81,4.09],[2.99,4.09],[3.12,4.02],[3.1,3.99],[2.66,4.02],[1.81,3.98],[1.77,3.9],[2.15,3.94],[2.25,3.9],[2.73,3.94],[2.88,3.91],[2.96,3.91],[3.21,3.94],[2.48,3.87],[2.81,3.87],[2.99,3.85],[3.06,3.85],[3.12,3.89],[3.17,3.87],[1.15,3.79],[2.29,3.79],[2.66,3.79],[3.62,3.79],[2.99,3.77],[3.17,3.77],[2.48,3.75],[2.33,3.72],[2.58,3.72],[2.73,3.7],[2.84,3.75],[3.06,3.71],[3.25,3.69],[3.69,3.68],[1.81,3.72],[2.44,3.68],[3.31,3.68],[2.88,3.65],[3.25,3.65],[2.33,3.61],[2.22,3.59],[2.4,3.57],[2.8,3.59],[2.83,3.61],[3.02,3.59],[3.1,3.59],[3.41,3.57],[1.85,3.57],[1.74,3.57],[1.66,3.54],[2.11,3.54],[2.33,3.5],[2.54,3.52],[2.62,3.52],[2.7,3.48],[2.77,3.53],[2.9,3.5],[3.02,3.5],[3.09,3.53],[3.31,3.5],[3.41,3.5],[2.04,3.47],[2.11,3.47],[2.2,3.47],[2.51,3.47],[3.51,3.47],[2.11,3.42],[2.56,3.43],[2.82,3.42],[2.91,3.43],[3.02,3.42],[3.15,3.43],[3.28,3.4],[1.56,3.36],[1.33,3.31],[1.41,3.27],[1.85,3.28],[1.92,3.24],[1.99,3.31],[2.17,3.35],[2.3,3.32],[2.38,3.27],[2.44,3.34],[2.54,3.37],[2.61,3.32],[2.7,3.34],[2.8,3.35],[2.9,3.34],[2.99,3.34],[3.12,3.34],[3.25,3.37],[3.31,3.37],[3.41,3.34],[3.47,3.34],[3.58,3.2],[2.03,3.22],[2.04,3.17],[2.2,3.24],[2.15,3.16],[1.74,3.2],[1.63,3.09],[1.56,3.04],[1.56,2.99],[1.7,3.02],[1.81,3.09],[2.07,3.09],[1.99,3.0],[2.04,2.96],[2.11,2.95],
[1.52,2.83],[1.09,2.8],[1.37,2.6],[1.33,2.6],[1.41,2.59],[1.37,2.46],[1.48,2.39],[1.63,2.53],[1.74,2.6],[1.81,2.65],[1.88,2.72],[1.96,2.72],[2.03,2.76],[1.99,2.6],[2.07,2.64],[2.11,2.67],[2.24,2.69],[2.11,2.83],[2.19,2.87],[2.27,2.8],[2.33,2.75],[2.18,2.39],[2.4,2.43],[2.33,2.5],[2.38,2.64],[2.46,2.6],[2.53,2.5],[2.53,2.77],[2.48,2.78],[1.52,2.12],[1.81,2.17],[1.92,2.09],[2.15,1.98],[2.33,2.02],[1.99,1.87],[2.22,1.72],[2.29,1.61],[2.44,1.81],[2.55,1.72],[2.62,1.91],[2.66,1.79],[2.73,1.81],[2.75,1.91],[2.86,1.83],[2.91,1.75],[3.06,1.91],[3.21,1.79],[2.8,1.65],[2.88,1.61],[2.99,1.46],[2.73,1.39],[3.17,1.35],[3.21,1.31],[3.14,1.24],[2.55,1.24],[3.36,1.35],[3.36,2.07],[3.36,2.2],[3.47,2.23],[3.58,2.34],[3.28,2.02],[3.06,2.07],[2.99,2.12],[3.17,2.18],[3.07,2.41],[3.17,2.34],[2.98,2.34],[2.99,2.23],[2.77,2.02],[2.8,1.99],[2.85,1.95],[2.88,2.04],[2.73,2.15],[2.8,2.17],[2.62,2.3],[2.7,2.26],[2.62,2.2],[2.4,2.28],[2.48,2.31],[2.48,2.2],[2.4,2.2],[2.51,2.1],[2.4,2.12],[2.6,2.39],[2.77,2.41],[2.81,2.34],[2.93,2.49],[2.67,2.49],[2.73,2.54],[3.28,2.41],[3.19,2.54],[3.12,2.59],[3.43,2.51],[3.38,2.54],[3.41,2.6],[3.47,2.72],[3.38,2.7],[3.47,2.83],[3.43,2.93],[3.47,3.01],[3.41,3.09],[3.44,3.18],[3.38,3.02],[3.36,2.85],[3.4,2.45],[3.33,2.3],
[2.2,3.08],[2.3,3.12],[2.36,3.06],[2.42,3.14],[2.48,3.2],[2.55,3.14],[2.62,3.22],[2.26,3.0],[2.34,2.98],[2.42,3.0],[2.5,3.04],[2.58,3.08],[2.66,3.14],[2.22,2.94],[2.32,2.9],[2.4,2.88],[2.48,2.92],[2.56,2.96],[2.64,3.02],[2.44,2.82],[2.52,2.85],[2.6,2.88],[2.68,2.94],[2.6,2.74],[2.68,2.8],[2.56,2.66],[2.64,2.68],[2.72,2.72],[2.6,2.6],[2.68,2.62],[2.76,2.64],[2.82,2.58],[2.9,2.6],[3.0,2.55],[3.08,2.5],
[2.72,3.3],[2.8,3.28],[2.88,3.26],[2.96,3.28],[3.04,3.3],[3.12,3.26],[3.2,3.28],[3.28,3.3],[3.34,3.24],[2.74,3.22],[2.82,3.2],[2.88,3.18],[2.96,3.2],[3.04,3.22],[3.12,3.18],[3.2,3.2],[3.28,3.16],[3.34,3.18],[2.76,3.14],[2.84,3.12],[2.9,3.15],[2.96,3.1],[3.02,3.14],[3.1,3.12],[3.18,3.1],[3.26,3.12],[3.33,3.08],[2.78,3.06],[2.84,3.05],[2.9,3.07],[2.96,3.04],[3.02,3.06],[3.06,3.02],[3.16,3.03],[3.24,3.05],[3.3,3.0],[2.74,2.98],[2.82,2.97],[2.88,3.0],[2.92,2.96],[2.98,2.98],[3.04,2.96],[3.12,2.97],[3.2,2.98],[3.26,2.94],[3.34,2.94],[2.76,2.9],[2.84,2.9],[2.9,2.92],[2.96,2.9],[3.02,2.91],[3.08,2.88],[3.14,2.9],[3.22,2.88],[3.3,2.86],[2.8,2.82],[2.86,2.84],[2.92,2.83],[2.98,2.85],[3.04,2.82],[3.1,2.84],[3.18,2.8],[3.28,2.78],[2.84,2.76],[2.9,2.74],[2.96,2.77],[3.02,2.74],[3.08,2.76],[3.16,2.72],[3.24,2.7],[2.96,2.68],[3.04,2.66],[3.1,2.68],[3.18,2.64],[3.26,2.62],[3.06,2.6],[3.14,2.56],[3.22,2.48]];
const denseD = [
[2.84,3.18],[2.8,3.1],[2.86,3.08],[2.82,3.02],[2.78,3.0],[2.84,2.96],[2.8,2.94],[2.86,2.94],[2.82,2.88],[2.88,2.88],[2.92,3.02],[2.94,2.94],[2.92,2.88],[2.98,2.8],[3.02,2.8],[3.04,2.77],[3.06,2.72],[3.0,2.7],[3.1,2.72],[3.12,2.64],[3.14,2.62],[3.2,3.06],[3.26,3.0],[3.22,2.94],[3.28,2.96],[3.18,2.88],[2.76,3.05],[2.72,3.08],[2.68,3.08],[2.72,3.16],[2.68,3.2],[2.62,3.12],[2.76,2.84],[2.72,2.86],[2.66,2.88],[2.74,2.78],[2.8,2.76],[2.78,2.7],[2.84,2.68],[2.9,2.67],[2.84,2.6],[2.94,2.58],[2.86,2.52],[3.0,2.48],[2.92,2.42],[3.02,2.4],[3.1,2.42],[2.84,2.44],[2.72,2.46],[2.54,3.26],[2.6,3.3],[2.68,3.38],[2.76,3.38],[2.84,3.38],[2.96,3.38],[3.08,3.38],[3.18,3.36],[3.36,3.28],[3.3,3.22],[3.38,3.14],[2.44,3.06],[2.34,3.04],[2.28,2.9],[2.24,2.85],[2.44,2.72],[2.5,2.64],[3.06,2.26],[3.12,2.2],[3.06,2.3],[2.92,2.28]];

const panels = [
  {key:'a', left:184, right:826, top:112, bottom:754, gate:gateA, points:pointsA, dense:denseA},
  {key:'b', left:184, right:826, top:1030, bottom:1672, gate:gateB, points:pointsB, dense:denseB},
  {key:'c', left:1134, right:1777, top:116.5, bottom:758, gate:gateC, points:pointsC, dense:denseC},
  {key:'d', left:1134, right:1777, top:1030, bottom:1672, gate:gateD, points:pointsD, dense:denseD}
];
const BLUE = '#1414e6', RED = '#dd2b4c';
const NS = 'http://www.w3.org/2000/svg';
const root = document.getElementById('marks');
function xScale(p, v){ return p.left + (v - 1) * (p.right - p.left) / (axisEnd - 1); }
function yScale(p, v){ return p.bottom - (v - 1) * 102.7; }
function line(parent, x1, y1, x2, y2, color, w){
  const el = document.createElementNS(NS, 'line');
  el.setAttribute('x1', x1);
  el.setAttribute('y1', y1);
  el.setAttribute('x2', x2);
  el.setAttribute('y2', y2);
  el.setAttribute('stroke', color);
  el.setAttribute('stroke-width', w);
  parent.appendChild(el);
  return el;
}
function label(parent, x, y, str, size, weight, family, rot){
  const el = document.createElementNS(NS, 'text');
  el.setAttribute('fill', '#1c1ce4');
  el.setAttribute('stroke', '#1c1ce4');
  el.setAttribute('stroke-width', '0.6');
  el.setAttribute('font-size', size);
  el.setAttribute('font-weight', weight);
  el.setAttribute('style', 'font-family:' + family);
  el.setAttribute('transform', 'translate(' + x + ',' + y + ')' + (rot ? ' rotate(-90)' : ''));
  el.textContent = str;
  parent.appendChild(el);
  return el;
}
const SERIF = '"Liberation Serif",serif', SANS = '"Liberation Sans",sans-serif';
panels.forEach(function(p){
  const g = document.createElementNS(NS, 'g');
  
  
  root.appendChild(g);
  // ticks
  const tickValues = [];
  tickDecades.forEach(function(d){ tickMultipliers.forEach(function(m){ tickValues.push(d + Math.log10(m)); }); });
  tickValues.push(7);
  tickValues.forEach(function(v){
    const tx = line(g, xScale(p, v), p.bottom, xScale(p, v), p.bottom + 21, BLUE, 3.6);
    
    
    const ty = line(g, p.left, yScale(p, v), p.left - 21, yScale(p, v), BLUE, 3.6);
    
    
  });
  const endTick = line(g, p.right, p.bottom, p.right, p.bottom + 21, BLUE, 3.6);
  
  
  // frame
  const frame = [[p.left-21,p.top,p.right,p.top],[p.left-21,p.bottom,p.right,p.bottom],[p.left,p.top,p.left,p.bottom],[p.right,p.top,p.right,p.bottom]];
  frame.forEach(function(f){
    const fl = line(g, f[0], f[1], f[2], f[3], BLUE, 3.6);
    
    
  });
  // gates
  const gv = line(g, xScale(p, p.gate[0]), p.top, xScale(p, p.gate[0]), p.bottom, RED, 3.8);
  
  
  const gh = line(g, p.left, yScale(p, p.gate[1]), p.right, yScale(p, p.gate[1]), RED, 3.8);
  
  
  // tick labels
  tickLabelValues.forEach(function(v, i){
    const last = i === tickLabelValues.length - 1;
    const X = xScale(p, v) - (last ? 36 : 22);
    const lb = label(g, X, p.bottom + 63, '10', 21, 'bold', SERIF, false);
    
    
    const le = label(g, X + 23, p.bottom + 56, tickLabels[i], 33, 'normal', SANS, false);
    
    
    const Y = yScale(p, v) + (last ? 26 : 19);
    const yb = label(g, p.left - 39, Y, '10', 21, 'bold', SERIF, true);
    
    
    const ye = label(g, p.left - 49, Y - 22, tickLabels[i], 33, 'normal', SANS, true);
    
    
  });
  // events
  p.points.concat(p.dense).forEach(function(pt){
    const c = document.createElementNS(NS, 'circle');
    c.setAttribute('cx', xScale(p, pt[0]));
    c.setAttribute('cy', yScale(p, pt[1]));
    c.setAttribute('r', 2.8);
    c.setAttribute('fill', '#111');
    
    
    g.appendChild(c);
  });
});
</script>
</body></html>
